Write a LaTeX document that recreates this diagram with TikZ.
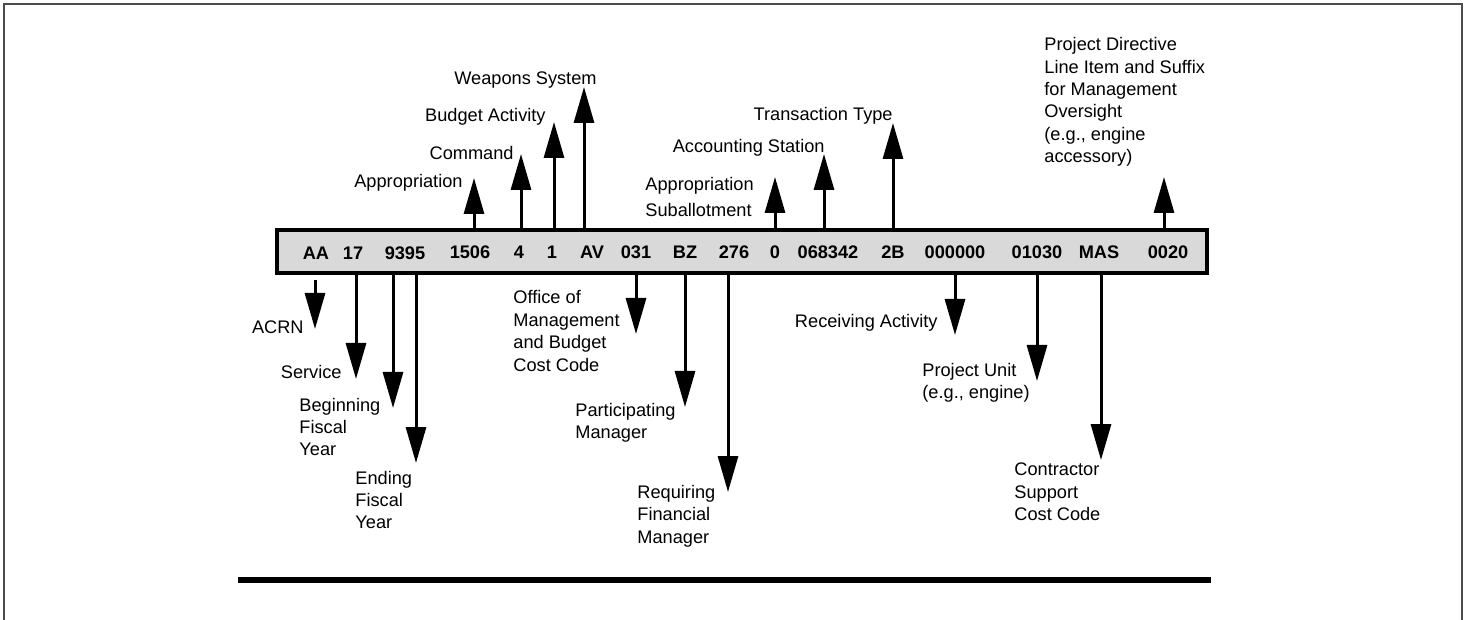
\documentclass[tikz,border=0pt]{standalone}
\usepackage{fontspec}
\setmainfont{Liberation Sans}
\usetikzlibrary{arrows.meta}

\begin{document}
\begin{tikzpicture}[x=0.5pt,y=-0.5pt,font=\fontsize{9.1}{11.2}\selectfont,
    strip/.style={draw,line width=1.6pt,fill=gray!30,minimum width=465pt,minimum height=21.5pt,inner sep=0},
    code/.style={font=\fontsize{9.1}{11.2}\selectfont\bfseries,inner sep=0}]
            \tikzstyle{note}=[inner sep=0,align=left]
            \tikzstyle{upline}=[line width=1.5pt,-{Triangle[length=18pt,width=10pt]}]
            \tikzstyle{downline}=[line width=1.5pt,-{Triangle[length=18pt,width=10pt]}]
            \useasboundingbox (0,0) rectangle (1468,620);
            % frame and rule
            \draw[line width=1pt,gray!60!black] (4,620) -- (4,4) -- (1462,4) -- (1462,620);
            \draw[line width=2.6pt] (238,580) -- (1211,580);
            % the code strip
            \node[strip] (strip) at (742,251.5) {};
            \node[code] (acrn) at (316,253) {AA};
            \node[code] (svc) at (353,253) {17};
            \node[code] (fy) at (405,253) {9395};
            \node[code] (approp) at (470,252) {1506};
            \node[code] (cmd) at (519,252) {4};
            \node[code] (bact) at (552,252) {1};
            \node[code] (wsys) at (592,252) {AV};
            \node[code] (omb) at (636,252) {031};
            \node[code] (pman) at (685,252) {BZ};
            \node[code] (rfm) at (734,252) {276};
            \node[code] (asub) at (775,252) {0};
            \node[code] (acst) at (828,252) {068342};
            \node[code] (ttype) at (893,252) {2B};
            \node[code] (ract) at (955,252) {000000};
            \node[code] (punit) at (1037,252) {01030};
            \node[code] (csc) at (1099,252) {MAS};
            \node[code] (pdli) at (1168,252) {0020};
            % arrow tips
            \coordinate (t-approp) at (474,178);
            \coordinate (t-cmd) at (521,154);
            \coordinate (t-bact) at (554,122);
            \coordinate (t-wsys) at (584,87);
            \coordinate (t-asub) at (775,177);
            \coordinate (t-acst) at (824,154);
            \coordinate (t-ttype) at (893,123);
            \coordinate (t-pdli) at (1164,177);
            \coordinate (t-acrn) at (315,329);
            \coordinate (t-svc) at (356,379);
            \coordinate (t-bfy) at (393,408);
            \coordinate (t-efy) at (416,463);
            \coordinate (t-omb) at (636,334);
            \coordinate (t-pman) at (685,407);
            \coordinate (t-rfm) at (728,492);
            \coordinate (t-ract) at (955,335);
            \coordinate (t-punit) at (1037,381);
            \coordinate (t-csc) at (1101,460);
            % labels above
            \node[note,anchor=east] (l-approp) at (463,183) {Appropriation};
            \node[note,anchor=east] (l-cmd) at (514,153) {Command};
            \node[note,anchor=east] (l-bact) at (546,117) {Budget Activity};
            \node[note,anchor=east] (l-wsys) at (597,80) {Weapons System};
            \node[note,anchor=west,font=\fontsize{9.1}{13}\selectfont] (l-asub) at (645,197) {Appropriation\\Suballotment};
            \node[note,anchor=east] (l-acst) at (825,148) {Accounting Station};
            \node[note,anchor=east] (l-ttype) at (893,116) {Transaction Type};
            \node[note,anchor=west] (l-pdli) at (1044,102) {Project Directive\\Line Item and Suffix\\for Management\\Oversight\\(e.g., engine\\accessory)};
            % labels below
            \node[note,anchor=east] (l-acrn) at (304,327) {ACRN};
            \node[note,anchor=east] (l-svc) at (342,372) {Service};
            \node[note,anchor=west] (l-bfy) at (299,427) {Beginning\\Fiscal\\Year};
            \node[note,anchor=west] (l-efy) at (355,500) {Ending\\Fiscal\\Year};
            \node[note,anchor=west] (l-omb) at (513,331) {Office of\\Management\\and Budget\\Cost Code};
            \node[note,anchor=west] (l-pman) at (575,423) {Participating\\Manager};
            \node[note,anchor=west] (l-rfm) at (637,516) {Requiring\\Financial\\Manager};
            \node[note,anchor=east] (l-ract) at (938,323) {Receiving Activity};
            \node[note,anchor=west] (l-punit) at (922,383) {Project Unit\\(e.g., engine)};
            \node[note,anchor=west] (l-csc) at (1014,492) {Contractor\\Support\\Cost Code};
            % arrows
            \foreach \t in {approp,cmd,bact,wsys,asub,acst,ttype,pdli}
              \draw[upline] (t-\t |- strip.north) -- (t-\t);
            \draw[downline,shorten <=2.5pt] (t-acrn |- strip.south) -- (t-acrn);
            \foreach \t in {svc,bfy,efy,omb,pman,rfm,ract,punit,csc}
              \draw[downline] (t-\t |- strip.south) -- (t-\t);
\end{tikzpicture}
\end{document}
